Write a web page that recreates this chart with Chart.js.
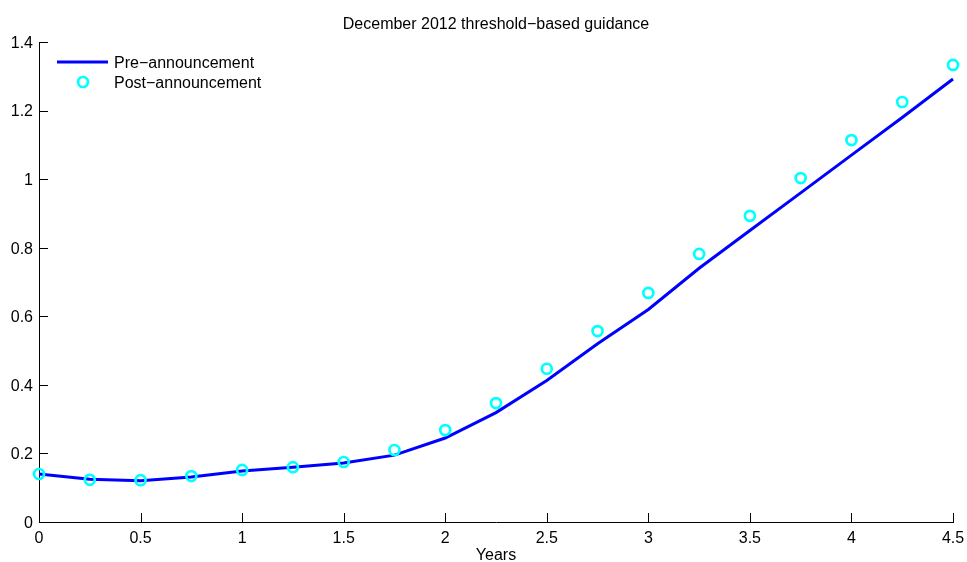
<!DOCTYPE html>
<html>
<head>
<meta charset="utf-8">
<script src="https://cdn.jsdelivr.net/npm/chart.js@4.4.1/dist/chart.umd.min.js"></script>
<style>
  html, body { margin: 0; padding: 0; background: #fff; }
  #wrap { width: 967px; height: 562px; position: relative; }
</style>
</head>
<body>
<div id="wrap"><canvas id="c" width="967" height="562"></canvas></div>
<script>
// Horizon in years
const years = [0, 0.25, 0.5, 0.75, 1, 1.25, 1.5, 1.75, 2, 2.25, 2.5, 2.75, 3, 3.25, 3.5, 3.75, 4, 4.25, 4.5];
// Expected path before the announcement
const preAnnouncement = [0.140, 0.125, 0.120, 0.131, 0.149, 0.160, 0.172, 0.195, 0.245, 0.319, 0.413, 0.520, 0.620, 0.740, 0.850, 0.960, 1.070, 1.180, 1.292];
// Expected path after the announcement
const postAnnouncement = [0.140, 0.123, 0.122, 0.134, 0.152, 0.160, 0.175, 0.210, 0.268, 0.347, 0.447, 0.557, 0.668, 0.782, 0.893, 1.003, 1.114, 1.225, 1.333];
const xTicks = [0, 0.5, 1, 1.5, 2, 2.5, 3, 3.5, 4, 4.5];
const yTicks = [0, 0.2, 0.4, 0.6, 0.8, 1, 1.2, 1.4];
const chartTitle = 'December 2012 threshold\u2212based guidance';
const xTitle = 'Years';
const legendLabels = ['Pre\u2212announcement', 'Post\u2212announcement'];

const FONT = '"Liberation Sans", Arial, Helvetica, sans-serif';
const LINE_BLUE = '#0000ff';
const MARK_CYAN = '#00ffff';

const toPts = (xs, ys) => xs.map((x, i) => ({ x: x, y: ys[i] }));

// Inward tick marks, title above the axes and the in-axes legend
const decorations = {
  id: 'decorations',
  afterDraw(chart) {
    const ctx = chart.ctx;
    const a = chart.chartArea;
    const xs = chart.scales.x, ys = chart.scales.y;
    ctx.save();
    ctx.strokeStyle = '#000';
    ctx.lineWidth = 1;
    ctx.beginPath();
    xTicks.forEach(v => {
      const px = Math.round(xs.getPixelForValue(v)) + 0.5;
      ctx.moveTo(px, a.bottom);
      ctx.lineTo(px, a.bottom - 9);
    });
    yTicks.forEach(v => {
      const py = Math.round(ys.getPixelForValue(v)) + 0.5;
      ctx.moveTo(a.left, py);
      ctx.lineTo(a.left + 9, py);
    });
    ctx.stroke();

    // title
    ctx.fillStyle = '#000';
    ctx.font = '16px ' + FONT;
    ctx.textAlign = 'center';
    ctx.textBaseline = 'middle';
    ctx.fillText(chartTitle, (a.left + a.right) / 2, 24.5);

    // legend
    ctx.textAlign = 'left';
    ctx.strokeStyle = LINE_BLUE;
    ctx.lineWidth = 3;
    ctx.beginPath();
    ctx.moveTo(57, 62);
    ctx.lineTo(108, 62);
    ctx.stroke();
    ctx.fillText(legendLabels[0], 114, 63.5);
    ctx.strokeStyle = MARK_CYAN;
    ctx.lineWidth = 2.7;
    ctx.beginPath();
    ctx.arc(83, 82, 5, 0, Math.PI * 2);
    ctx.stroke();
    ctx.fillText(legendLabels[1], 114, 83.5);
    ctx.restore();
  }
};

new Chart(document.getElementById('c'), {
  type: 'line',
  data: {
    datasets: [
      {
        label: legendLabels[1],
        data: toPts(years, postAnnouncement),
        showLine: false,
        borderColor: MARK_CYAN,
        backgroundColor: 'rgba(0,0,0,0)',
        pointRadius: 5,
        pointBorderWidth: 2.7,
        pointBorderColor: MARK_CYAN,
        pointBackgroundColor: 'rgba(0,0,0,0)',
        order: 0,
        clip: false
      },
      {
        label: legendLabels[0],
        data: toPts(years, preAnnouncement),
        borderColor: LINE_BLUE,
        borderWidth: 3,
        pointRadius: 0,
        tension: 0,
        fill: false,
        order: 1,
        clip: false
      }
    ]
  },
  options: {
    responsive: false,
    animation: false,
    events: [],
    layout: { padding: { top: 42, right: 14, left: 0, bottom: 0 } },
    plugins: {
      legend: { display: false },
      tooltip: { enabled: false },
      title: { display: false }
    },
    scales: {
      x: {
        type: 'linear',
        min: 0,
        max: 4.5,
        afterBuildTicks: s => { s.ticks = xTicks.map(v => ({ value: v })); },
        afterFit: s => { s.height = 40; s.paddingLeft = 0; s.paddingRight = 0; },
        grid: { display: false, drawTicks: false },
        border: { display: true, color: '#000', width: 1 },
        ticks: {
          color: '#000',
          font: { family: FONT, size: 16 },
          padding: 7,
          maxRotation: 0,
          autoSkip: false,
          callback: v => String(v)
        },
        title: {
          display: true,
          text: xTitle,
          color: '#000',
          font: { family: FONT, size: 16, lineHeight: 1 },
          padding: { top: 0, bottom: -2 }
        }
      },
      y: {
        type: 'linear',
        min: 0,
        max: 1.4,
        afterBuildTicks: s => { s.ticks = yTicks.map(v => ({ value: v })); },
        afterFit: s => { s.width = 39; s.paddingTop = 0; s.paddingBottom = 0; },
        grid: { display: false, drawTicks: false },
        border: { display: true, color: '#000', width: 1 },
        ticks: {
          color: '#000',
          font: { family: FONT, size: 16 },
          padding: 6,
          labelOffset: 1.5,
          autoSkip: false,
          callback: v => String(Math.round(v * 10) / 10)
        }
      }
    }
  },
  plugins: [decorations]
});
</script>
</body>
</html>
